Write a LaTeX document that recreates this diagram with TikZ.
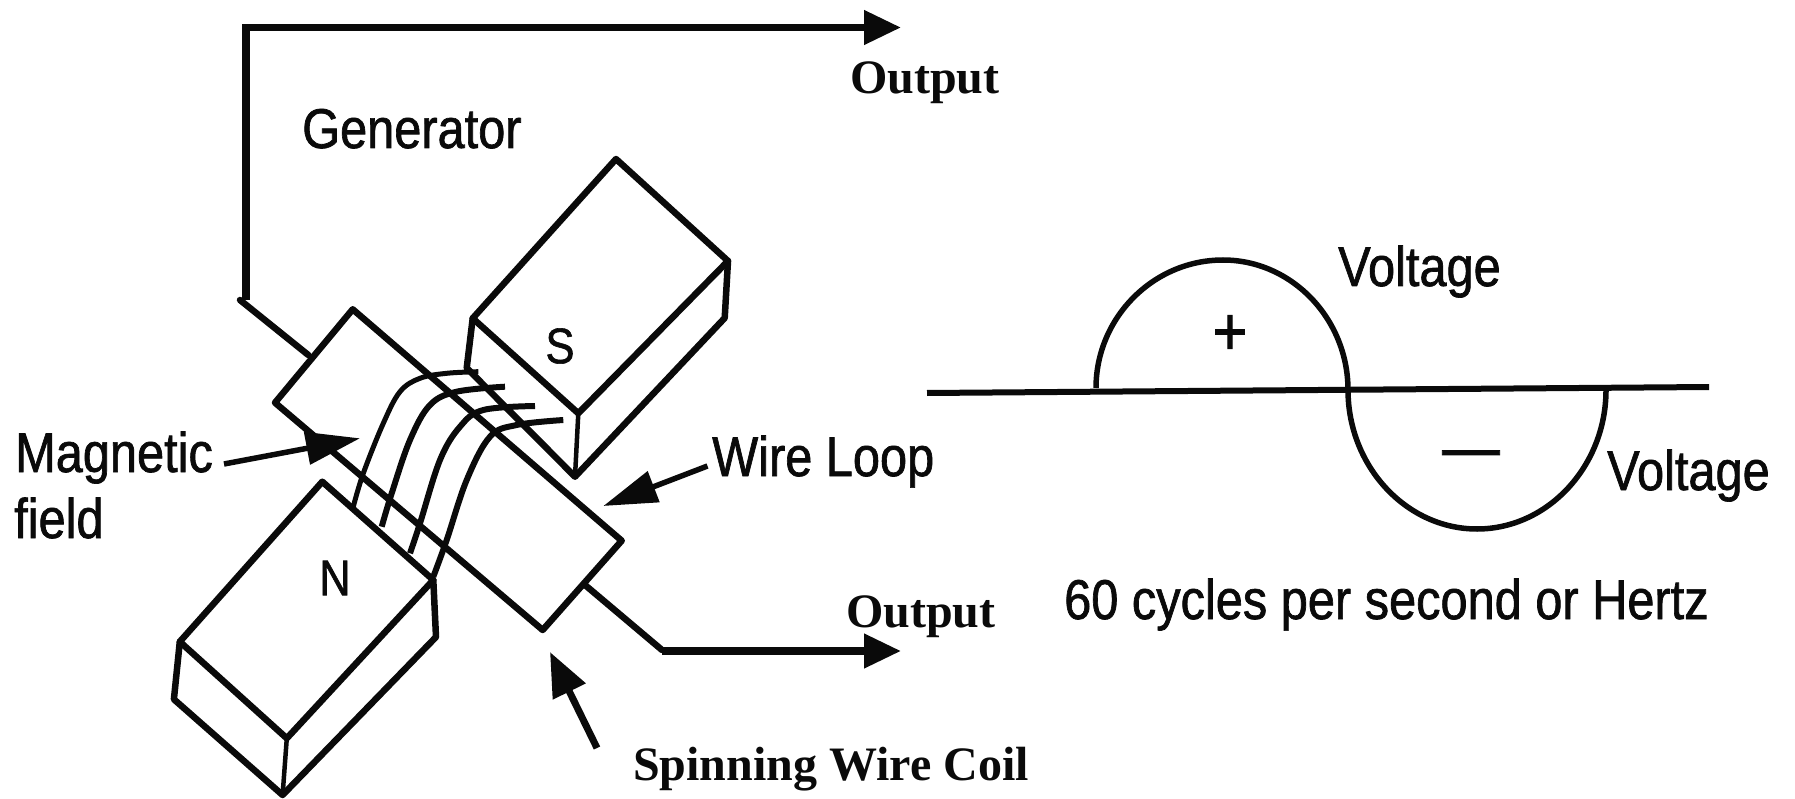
\documentclass[tikz,border=0pt]{standalone}
\usepackage{fontspec}
\usetikzlibrary{arrows.meta}
\newfontfamily\gensans[FakeStretch=0.87,FakeBold=1.2]{Liberation Sans}
\newfontfamily\genserif{Liberation Serif}
\definecolor{inkdark}{HTML}{0A0A0A}
\tikzset{
  magedge/.style={draw=inkdark, line width=6.5pt, line join=round, line cap=round},
  coilwire/.style={draw=inkdark, line width=6pt, line cap=butt},
  outflow/.style={draw=inkdark, line width=7.5pt, line join=miter, -{Triangle[length=37pt,width=33pt]}},
  pointer/.style={draw=inkdark, line width=5.5pt, -{Triangle[length=54pt,width=32pt]}},
  sineline/.style={draw=inkdark, line width=5.5pt},
  sanstxt/.style={font=\gensans\fontsize{56}{60}\selectfont, text=inkdark, anchor=base west, inner sep=0pt},
  seriftxt/.style={font=\genserif\bfseries\fontsize{48}{50}\selectfont, text=inkdark, anchor=base west, inner sep=0pt},
  poletxt/.style={font=\gensans\fontsize{50}{54}\selectfont, text=inkdark, inner sep=0pt},
}
\begin{document}
\begin{tikzpicture}[x=1pt,y=-1pt]
  \useasboundingbox (0,0) rectangle (1795,799);
  % wire loop plate and its two leads
  \coordinate (platetop) at (352.7,309.3);
  \coordinate (plateleft) at (275,402.7);
  \coordinate (platebot) at (542.7,630);
  \coordinate (plateright) at (621.7,540.7);
  \draw[magedge] (platetop) -- (plateright) -- (platebot) -- (plateleft) -- cycle;
  \coordinate (leadtop) at (240,300);
  \coordinate (leadtopin) at (308.3,355);
  \coordinate (leadbot) at (662,650);
  \coordinate (leadbotin) at (585,585);
  \draw[magedge] (leadtop) -- (leadtopin);
  \draw[magedge] (leadbotin) -- (leadbot);
  % S pole
  \coordinate (sa) at (472.7,318.3);
  \coordinate (sb) at (578.3,413.3);
  \coordinate (sc) at (728,261);
  \coordinate (sd) at (616,159);
  \coordinate (sbd) at (575,476.7);
  \coordinate (scd) at (724.7,318);
  \coordinate (sad) at (466.7,368);
  \draw[magedge] (sa) -- (sb) -- (sc) -- (sd) -- cycle;
  \draw[magedge] (sa) -- (sad) -- (sbd) -- (scd) -- (sc);
  \draw[magedge, line width=4.5pt] (sb) -- (sbd);
  % N pole
  \coordinate (na) at (322.3,481.7);
  \coordinate (nb) at (433.3,580);
  \coordinate (nc) at (286.8,738.3);
  \coordinate (nd) at (179.8,641.7);
  \coordinate (ndd) at (173.9,699.3);
  \coordinate (ncd) at (282.6,795);
  \coordinate (nbd) at (436,637);
  \draw[magedge] (na) -- (nb) -- (nc) -- (nd) -- cycle;
  \draw[magedge] (nd) -- (ndd) -- (ncd) -- (nbd) -- (nb);
  \draw[magedge, line width=4.5pt] (nc) -- (ncd);
  % coil turns
  \draw[coilwire, line width=5pt] plot[smooth, tension=0.6] coordinates {(353.3,506.7) (363.3,473.3) (383.3,423.3) (400,391.7) (420,378.3) (446.7,373.3) (478.3,371.7)};
  \draw[coilwire] plot[smooth, tension=0.6] coordinates {(381.7,526.7) (391.7,493.3) (410,440) (430,405) (456.7,391.7) (505,386.7)};
  \draw[coilwire] plot[smooth, tension=0.6] coordinates {(410,553.3) (420,523.3) (440,460) (460,426.7) (483.3,410) (535,406)};
  \draw[coilwire] plot[smooth, tension=0.6] coordinates {(433.3,576.7) (446.7,540) (466.7,480) (490,436.7) (516.7,425) (563.3,420)};
  % output lines
  \coordinate (outtopelbow) at (246,27.5);
  \coordinate (outtoptip) at (901,27.5);
  \coordinate (outbottip) at (901,651);
  \coordinate (outbotstart) at (662,651);
  \draw[outflow] (246,300) -- (outtopelbow) -- (outtoptip);
  \draw[outflow] (outbotstart) -- (outbottip);
  % pointers
  \coordinate (magfrom) at (224,464);
  \coordinate (magtip) at (360,438.3);
  \coordinate (loopfrom) at (707.5,466);
  \coordinate (looptip) at (603.3,506);
  \coordinate (spinfrom) at (597,748);
  \coordinate (spintip) at (550,652);
  \draw[pointer] (magfrom) -- (magtip);
  \draw[pointer] (loopfrom) -- (looptip);
  \draw[pointer, line width=7pt, -{Triangle[length=44pt,width=35pt]}] (spinfrom) -- (spintip);
  % sine
  \draw[draw=inkdark, line width=6pt] (927,393) -- (1709,387);
  \draw[sineline] (1096,388) .. controls (1096,318) and (1153,260) .. (1223,260)
    .. controls (1292,260) and (1348,319) .. (1348,390)
    .. controls (1348,466) and (1406,529) .. (1477,529)
    .. controls (1548,529) and (1606,466) .. (1606,390);
  % labels
  \node[sanstxt] (generator) at (302,148) {Generator};
  \node[sanstxt] (magnetic) at (15,472) {Magnetic};
  \node[sanstxt] (field) at (14,538) {field};
  \node[sanstxt] (wireloop) at (712,476) {Wire Loop};
  \node[sanstxt] (voltup) at (1338,286) {Voltage};
  \node[sanstxt] (voltdown) at (1607,490) {Voltage};
  \node[sanstxt] (hertz) at (1064,619) {60 cycles per second or Hertz};
  \node[seriftxt] (outtop) at (850,94) {Output};
  \node[seriftxt] (outbot) at (846,627) {Output};
  \node[seriftxt] (spinning) at (633,780) {Spinning Wire Coil};
  \node[poletxt] (spole) at (560,346) {S};
  \node[poletxt] (npole) at (335,578) {N};
  \node[poletxt, font=\gensans\fontsize{68}{70}\selectfont] (plus) at (1230,335) {+};
  \node[poletxt, font=\gensans\fontsize{66}{70}\selectfont] (minus) at (1471,460) {—};
\end{tikzpicture}
\end{document}
